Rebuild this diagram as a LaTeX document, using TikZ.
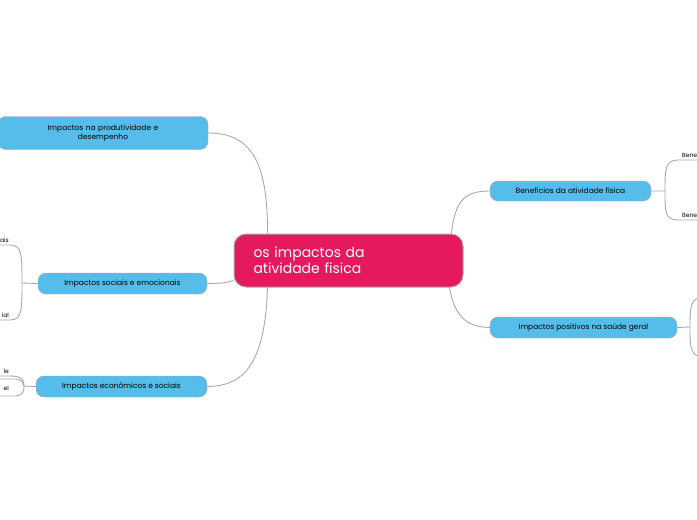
\documentclass[tikz,border=0pt]{standalone}
\usepackage{fontspec}
\setmainfont{Poppins}
\definecolor{hub}{HTML}{E5195D}
\definecolor{topic}{HTML}{56BDEB}
\definecolor{wire}{HTML}{AAAAAA}
\tikzset{
  topicbox/.style={draw=wire, fill=topic, rounded corners=8pt, font=\fontsize{7.5}{9}\selectfont, align=center, inner xsep=6pt},
  wire/.style={draw=wire, line width=0.9pt},
  leaf/.style={font=\fontsize{6}{7}\selectfont, inner sep=1pt}
}
\begin{document}
\begin{tikzpicture}[x=1pt,y=-1pt]
\useasboundingbox[fill=white] (0,0) rectangle (697,520);
% central topic
\node[draw=wire, line width=1pt, fill=hub, rounded corners=12pt, minimum width=229pt, minimum height=53pt, text=white, align=left, text width=190pt, font=\fontsize{14}{16}\selectfont] (hub) at (348.5,260.5) {os impactos da\\atividade fisica};
% main topics
\node[topicbox, minimum width=210pt, minimum height=33pt, text width=190pt] (prod) at (103,133) {Impactos na produtividade e\\desempenho};
\node[topicbox, minimum width=169pt, minimum height=21pt] (soc) at (122.5,283.5) {Impactos sociais e emocionais};
\node[topicbox, minimum width=171pt, minimum height=21pt] (eco) at (121.5,386.5) {Impactos econômicos e sociais};
\node[topicbox, minimum width=161pt, minimum height=20pt] (ben) at (570.5,191) {Benefícios da atividade física};
\node[topicbox, minimum width=187pt, minimum height=21pt] (pos) at (583.5,327.5) {Impactos positivos na saúde geral};
% links from the hub
\draw[wire] (hub.north west) ++(34,0) .. controls (268,160) and (250,133) .. (prod.east);
\draw[wire] (hub.west) ++(0,20) .. controls (225,283) .. (soc.east);
\draw[wire] (hub.south west) ++(34,0) .. controls (265,370) and (240,386) .. (eco.east);
\draw[wire] (hub.north east) ++(-12,0) .. controls (455,200) and (465,191) .. (ben.west);
\draw[wire] (hub.south east) ++(-14,0) .. controls (455,320) and (470,327) .. (pos.west);
% leaves
\coordinate (s1) at (0,245); \coordinate (s2) at (0,320);
\draw[wire] (soc.west) -- (22,283) (s1) -- (10,245) .. controls (22,245) and (22,255) .. (22,283) .. controls (22,310) and (22,320) .. (10,320) -- (s2);
\node[leaf, anchor=south east] at (10,244) {ais};
\node[leaf, anchor=south east] at (10,319) {ial};
\coordinate (e1) at (0,376);
\draw[wire] (eco.west) -- (24,386);
\draw[wire] (e1) -- (10,376) .. controls (22,376) and (24,380) .. (24,386);
\node[leaf, anchor=south east] at (10,375) {le};
\draw[wire, rounded corners=8pt, fill=white] (-20,379) rectangle (24,396);
\node[leaf, anchor=east] (e2) at (10,388) {el};
\coordinate (b1) at (697,160); \coordinate (b2) at (697,220);
\draw[wire] (ben.east) -- (665,191) (b1) -- (678,160) .. controls (665,160) and (665,170) .. (665,191) .. controls (665,212) and (665,220) .. (678,220) -- (b2);
\node[leaf, anchor=south west] at (681,159) {Bene};
\node[leaf, anchor=south west] at (681,219) {Bene};
\draw[wire] (pos.east) -- (690,327);
\draw[wire] (700,297) .. controls (690,300) and (690,310) .. (690,327) .. controls (690,345) and (690,354) .. (700,357);
\end{tikzpicture}
\end{document}
